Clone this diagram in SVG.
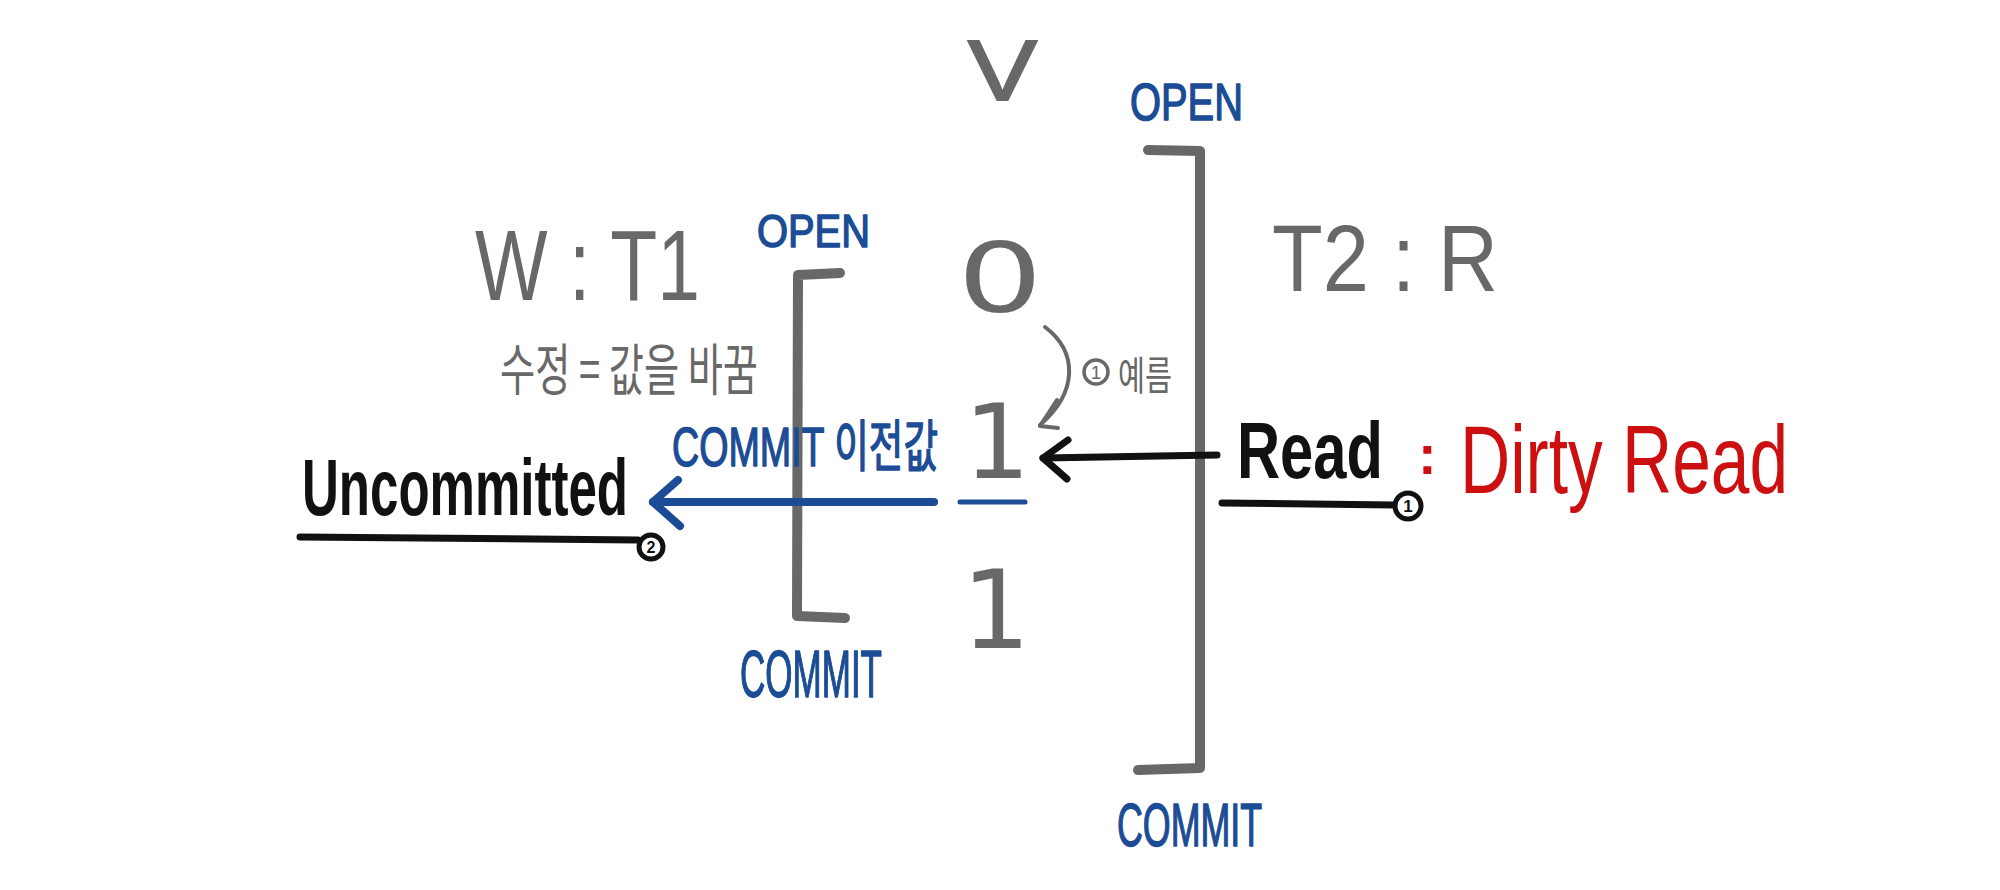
<svg xmlns="http://www.w3.org/2000/svg" width="2000" height="890" viewBox="0 0 2000 890">
<style>
  text{font-family:"Liberation Sans","Noto Sans CJK KR",sans-serif}
  .kr{font-family:"Noto Sans CJK KR","Noto Sans",sans-serif}
  .dj{font-family:"DejaVu Sans",sans-serif}
  .g{fill:#686868}
  .b{fill:#1b4c95;stroke:#1b4c95;stroke-width:1.5;stroke-linejoin:round}
  .k{fill:#111}
  .r{fill:#cc1010}
  .ln{fill:none;stroke-linecap:round;stroke-linejoin:round}
  .gs{stroke:#686868}
  .bs{stroke:#1b4c95}
  .ks{stroke:#111}
  .badge{fill:#fff;stroke:#111;stroke-width:5}
</style>
<rect width="2000" height="890" fill="#ffffff"/>

<g id="var-v">
  <text class="g" x="968" y="100" font-size="86" textLength="69" lengthAdjust="spacingAndGlyphs" stroke="#686868" stroke-width="2">V</text>
</g>

<g id="value-0">
  <text class="g dj" transform="translate(1000,312) scale(1.4,1)" text-anchor="middle" font-size="96">0</text>
</g>
<g id="value-1-dirty">
  <text class="g dj" x="997" y="478" text-anchor="middle" font-size="104">1</text>
  <path class="ln bs" stroke-width="5" d="M960 502 L1025 502"/>
</g>
<g id="value-1-final">
  <text class="g dj" x="996" y="648" text-anchor="middle" font-size="108">1</text>
</g>

<g id="t1-span">
  <path class="ln gs" stroke-width="10" d="M840 273 L798 275 L797 616 L845 618"/>
  <text class="b" x="757" y="247" font-size="47" textLength="113" lengthAdjust="spacingAndGlyphs">OPEN</text>
  <text class="b" x="740" y="697" font-size="66" textLength="142" lengthAdjust="spacingAndGlyphs">COMMIT</text>
</g>

<g id="t2-span">
  <path class="ln gs" stroke-width="10" d="M1148 150 L1200 151 L1200 768 L1138 770"/>
  <text class="b" x="1130" y="120" font-size="52" textLength="113" lengthAdjust="spacingAndGlyphs">OPEN</text>
  <text class="b" x="1117" y="846" font-size="62" textLength="145" lengthAdjust="spacingAndGlyphs">COMMIT</text>
</g>

<g id="t1-label">
  <text class="g" x="475" y="300" font-size="100" textLength="225" lengthAdjust="spacingAndGlyphs">W : T1</text>
  <text class="g kr" x="500" y="390" font-size="56" textLength="258" lengthAdjust="spacingAndGlyphs">수정 = 값을 바꿈</text>
</g>

<g id="t2-label">
  <text class="g" x="1272" y="291" font-size="95" textLength="226" lengthAdjust="spacingAndGlyphs">T2 : R</text>
</g>

<g id="uncommitted">
  <text class="k" x="302" y="515" font-size="80" font-weight="bold" textLength="326" lengthAdjust="spacingAndGlyphs">Uncommitted</text>
  <path class="ln ks" stroke-width="7" d="M300 537 L638 540"/>
  <circle class="badge" cx="651" cy="547" r="12"/>
  <text class="k" x="651" y="553" font-size="16" font-weight="bold" text-anchor="middle">2</text>
</g>

<g id="read">
  <text class="k" x="1237" y="478" font-size="80" font-weight="bold" textLength="146" lengthAdjust="spacingAndGlyphs">Read</text>
  <path class="ln ks" stroke-width="7" d="M1222 503 L1394 505"/>
  <circle class="badge" cx="1408" cy="506" r="13"/>
  <text class="k" x="1408" y="512" font-size="17" font-weight="bold" text-anchor="middle">1</text>
</g>

<g id="dirty-read">
  <text class="r" x="1418" y="474" font-size="56" font-weight="bold">:</text>
  <text class="r" x="1460" y="493" font-size="96" textLength="328" lengthAdjust="spacingAndGlyphs">Dirty Read</text>
</g>

<g id="connectors">
  <g id="edge-modify">
    <path class="ln gs" stroke-width="4" d="M1045 327 C1078 352 1078 392 1040 425"/>
    <path class="ln gs" stroke-width="4" d="M1057 400 L1040 426 L1058 428"/>
    <circle cx="1096" cy="372" r="12" fill="none" stroke="#686868" stroke-width="3.5"/>
    <text class="g" x="1096" y="379" font-size="19" text-anchor="middle">1</text>
    <text class="g kr" x="1118" y="390" font-size="40" textLength="54" lengthAdjust="spacingAndGlyphs">예름</text>
  </g>
  <g id="edge-read">
    <path class="ln ks" stroke-width="7" d="M1217 455 L1043 458"/>
    <path class="ln ks" stroke-width="7" d="M1068 440 L1043 458 L1067 479"/>
  </g>
  <g id="edge-uncommitted">
    <path class="ln bs" stroke-width="8" d="M934 502 L653 502"/>
    <path class="ln bs" stroke-width="8" d="M678 480 L653 502 L680 526"/>
    <text class="b" x="672" y="466" font-size="56" textLength="266" lengthAdjust="spacingAndGlyphs">COMMIT 이전값</text>
  </g>
</g>
</svg>
